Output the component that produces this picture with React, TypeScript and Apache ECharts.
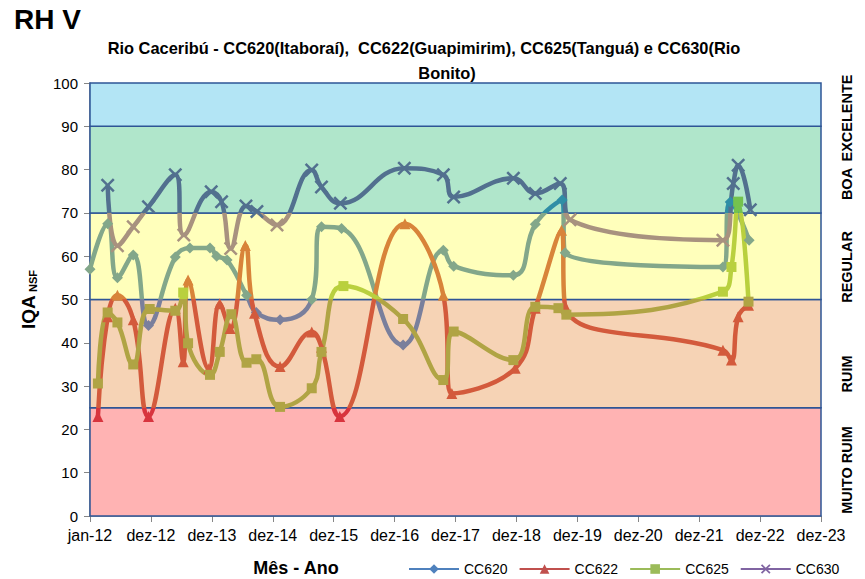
import React, { useEffect, useRef } from 'react';
import * as echarts from 'echarts';

const FONT = '"Liberation Sans", Arial, sans-serif';

// x axis ticks (year index from jan-12)
const xTickLabels = ['jan-12', 'dez-12', 'dez-13', 'dez-14', 'dez-15', 'dez-16', 'dez-17', 'dez-18', 'dez-19', 'dez-20', 'dez-21', 'dez-22', 'dez-23'];

// quality bands (IQA)
const bandNames = ['MUITO RUIM', 'RUIM', 'REGULAR', 'BOA', 'EXCELENTE'];
const bandLimits = [0, 25, 50, 70, 90, 100];

// CC620
const cc620X = [0.0, 0.29, 0.45, 0.71, 0.96, 1.4, 1.64, 1.97, 2.08, 2.25, 2.57, 2.73, 3.12, 3.64, 3.8, 4.13, 5.14, 5.8, 5.97, 6.95, 7.31, 7.75, 7.8, 10.39, 10.51, 10.82];
const cc620Y = [57, 67.5, 55, 60.3, 44, 59.8, 61.9, 61.9, 60, 59.1, 51, 47, 45.3, 50, 66.8, 66.4, 39.5, 61.4, 57.7, 55.6, 67.4, 73, 60.8, 57.5, 72.5, 63.7];

// CC622
const cc622X = [0.13, 0.29, 0.45, 0.71, 0.96, 1.4, 1.53, 1.61, 1.95, 2.13, 2.3, 2.55, 2.7, 3.12, 3.64, 3.8, 4.1, 5.17, 5.8, 5.94, 6.98, 7.31, 7.74, 7.8, 10.39, 10.53, 10.64, 10.81];
const cc622Y = [23, 46, 51, 45.3, 23, 48, 35.6, 54.5, 34, 49, 43.3, 62.5, 46.8, 34.5, 42.5, 39, 23, 67.5, 51, 28.3, 34.1, 48, 66, 48.5, 38.3, 36, 46, 48.7];

// CC625
const cc625X = [0.13, 0.29, 0.45, 0.71, 0.98, 1.4, 1.53, 1.61, 1.97, 2.13, 2.32, 2.57, 2.73, 3.12, 3.64, 3.8, 4.16, 5.14, 5.8, 5.97, 6.95, 7.31, 7.69, 7.82, 10.39, 10.53, 10.64, 10.81];
const cc625Y = [30.6, 47, 44.7, 35, 47.8, 47.4, 51.6, 39.9, 32.6, 37.9, 46.6, 35.4, 36.2, 25.2, 29.5, 37.9, 53.1, 45.5, 31.4, 42.6, 36, 48.3, 48, 46.5, 51.8, 57.5, 72.6, 49.5];

// CC630
const cc630X = [0.29, 0.45, 0.71, 0.96, 1.4, 1.54, 1.99, 2.16, 2.31, 2.56, 2.74, 3.07, 3.64, 3.8, 4.11, 5.16, 5.8, 5.97, 6.95, 7.31, 7.72, 7.88, 10.39, 10.56, 10.64, 10.84];
const cc630Y = [76.4, 62.4, 66.8, 71.4, 78.8, 64.9, 74.9, 72.6, 61.8, 71.6, 70.3, 67.2, 79.9, 76, 72.2, 80.3, 78.8, 73.7, 78, 74.5, 76.8, 68.4, 63.7, 76.8, 81, 70.7];

const bandFill = ['#ffb3b3', '#f6d3b5', '#ffffbb', '#b0e6cb', '#b3e5f5'];

const X_SYMBOL = 'path://M0,1.5L1.5,0L6,4.5L10.5,0L12,1.5L7.5,6L12,10.5L10.5,12L6,7.5L1.5,12L0,10.5L4.5,6Z';

const seriesDefs = [
  { name: 'CC620', xs: cc620X, ys: cc620Y, color: '#4f81bd', symbol: 'diamond', size: 11, bands: ['#8a6f90', '#7a7f9c', '#83a78a', '#2f8ea6', '#4f81bd'] },
  { name: 'CC622', xs: cc622X, ys: cc622Y, color: '#c0504d', symbol: 'triangle', size: 11, bands: ['#d8343e', '#d35a3c', '#d8843a', '#b07a50', '#c0504d'] },
  { name: 'CC625', xs: cc625X, ys: cc625Y, color: '#9bbb59', symbol: 'rect', size: 10, bands: ['#b39245', '#b0a444', '#b9d03e', '#74c24e', '#9bbb59'] },
  { name: 'CC630', xs: cc630X, ys: cc630Y, color: '#8064a2', symbol: X_SYMBOL, size: 14, bands: ['#8e7090', '#8e7090', '#a8927f', '#52708f', '#5a6fa0'] },
];

function zip(xs: number[], ys: number[]) {
  return xs.map((x, i) => [x, ys[i]]);
}

export default function App() {
  const ref = useRef<HTMLDivElement>(null);
  useEffect(() => {
    const chart = echarts.init(ref.current!, null, { renderer: 'svg' });
    const series: any[] = seriesDefs.map((s) => ({
      type: 'line',
      name: s.name,
      data: zip(s.xs, s.ys),
      smooth: 0.45,
      symbol: s.symbol,
      symbolSize: s.size,
      showAllSymbol: true,
      z: 3,
      itemStyle: { color: s.color },
      lineStyle: { width: 4.5 },
    }));
    series.push({
      type: 'line',
      name: 'faixas',
      data: [],
      silent: true,
      z: 1,
      markArea: {
        silent: true,
        itemStyle: { borderColor: '#2e5596', borderWidth: 1.5 },
        data: bandFill.map((c, i) => [
          { yAxis: bandLimits[i], itemStyle: { color: c, borderColor: '#2e5596', borderWidth: 1.5 } },
          { yAxis: bandLimits[i + 1] },
        ]),
      },
    });

    const visualMap = seriesDefs.map((s, i) => ({
      type: 'piecewise',
      show: false,
      seriesIndex: i,
      dimension: 1,
      pieces: [
        { lt: 25, color: s.bands[0] },
        { gte: 25, lt: 50, color: s.bands[1] },
        { gte: 50, lt: 70, color: s.bands[2] },
        { gte: 70, lt: 90, color: s.bands[3] },
        { gte: 90, color: s.bands[4] },
      ],
    }));

    const bandCenters = [470, 374, 267, 184, 118];

    chart.setOption({
      animation: false,
      textStyle: { fontFamily: FONT },
      title: [
        {
          text: 'Rio Caceribú - CC620(Itaboraí),  CC622(Guapimirim), CC625(Tanguá) e CC630(Rio',
          left: 419,
          top: 35,
          textAlign: 'center',
          textStyle: { fontSize: 16.4, fontWeight: 'bold', color: '#000', fontFamily: FONT },
        },
        {
          text: 'Bonito)',
          left: 442,
          top: 60,
          textAlign: 'center',
          textStyle: { fontSize: 16.4, fontWeight: 'bold', color: '#000', fontFamily: FONT },
        },
      ],
      grid: { left: 90, right: 44, top: 83, bottom: 63, containLabel: false },
      legend: {
        data: seriesDefs.map((s) => s.name),
        left: 403,
        top: 557,
        itemWidth: 50,
        itemHeight: 12,
        itemGap: 11,
        textStyle: { fontSize: 14, color: '#000', fontFamily: FONT },
      },
      visualMap,
      xAxis: {
        type: 'value',
        min: 0,
        max: 12,
        interval: 1,
        splitLine: { show: false },
        axisLine: { show: true, lineStyle: { color: '#868686', width: 1.5 } },
        axisTick: { show: true, length: 6, lineStyle: { color: '#868686' } },
        axisLabel: {
          fontSize: 16,
          color: '#000',
          margin: 11,
          fontFamily: FONT,
          formatter: (v: number) => xTickLabels[Math.round(v)] ?? '',
        },
      },
      yAxis: {
        type: 'value',
        min: 0,
        max: 100,
        interval: 10,
        splitLine: { show: false },
        axisLine: { show: true, lineStyle: { color: '#868686', width: 1.5 } },
        axisTick: { show: true, length: 6, lineStyle: { color: '#868686' } },
        axisLabel: { fontSize: 15, color: '#000', margin: 12, fontFamily: FONT },
        name: '{a|IQA} {b|NSF}',
        nameLocation: 'middle',
        nameGap: 52,
        nameRotate: 90,
        nameTextStyle: {
          rich: {
            a: { fontSize: 19, fontWeight: 'bold', color: '#000', fontFamily: FONT },
            b: { fontSize: 11, fontWeight: 'bold', color: '#000', fontFamily: FONT, verticalAlign: 'bottom', padding: [6, 0, 0, 0] },
          },
        },
      },
      graphic: [
        {
          type: 'text',
          left: 14,
          top: 5,
          style: { text: 'RH V', font: `bold 28px ${FONT}`, fill: '#000' },
        },
        {
          type: 'text',
          x: 296,
          y: 568,
          style: { text: 'Mês - Ano', font: `bold 18px ${FONT}`, fill: '#000', textAlign: 'center', textVerticalAlign: 'middle' },
        },
        ...bandNames.map((n, i) => ({
          type: 'text',
          x: 847,
          y: bandCenters[i],
          rotation: Math.PI / 2,
          style: { text: n, font: `bold 14.5px ${FONT}`, fill: '#000', textAlign: 'center', textVerticalAlign: 'middle' },
        })),
      ],
      series,
    });
    return () => chart.dispose();
  }, []);
  return <div ref={ref} style={{ position: 'absolute', left: 0, top: 0, width: 865, height: 579 }} />;
}
